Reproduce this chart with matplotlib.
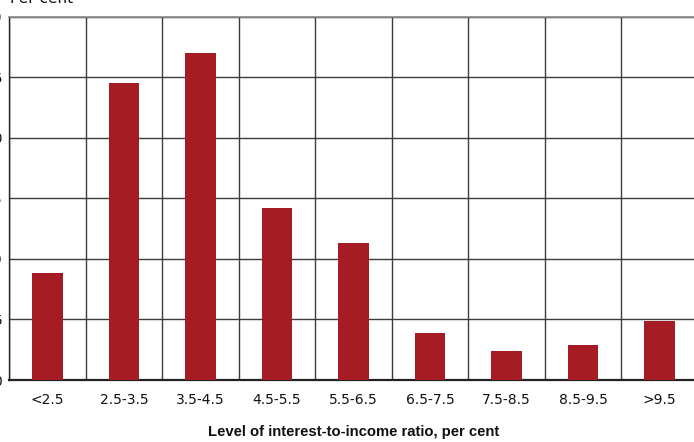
import matplotlib
matplotlib.use("Agg")
import matplotlib.pyplot as plt
import numpy as np

categories = ["<2.5", "2.5-3.5", "3.5-4.5", "4.5-5.5", "5.5-6.5",
              "6.5-7.5", "7.5-8.5", "8.5-9.5", ">9.5"]
values = [8.8, 24.5, 27.0, 14.2, 11.3, 3.9, 2.4, 2.9, 4.9]
yticks = [0, 5, 10, 15, 20, 25, 30]

W, H = 694, 442
fig = plt.figure(figsize=(W / 100, H / 100), dpi=100)
plt.rcParams['font.family'] = ['DejaVu Sans']

left, right, top, bottom = 9.3, 697.8, 16.7, 380.0
ax = fig.add_axes([left / W, (H - bottom) / H, (right - left) / W, (bottom - top) / H])

x = np.arange(len(categories))
ax.bar(x, values, width=0.4, color="#A51C24", zorder=3)

ax.set_xlim(-0.5, len(categories) - 0.5)
ax.set_ylim(0, 30)
ax.set_yticks(yticks)
ax.set_xticks(x)
ax.set_xticklabels(categories)
ax.set_xticks(np.arange(-0.5, len(categories), 1.0), minor=True)

ax.grid(True, which="major", axis="y", color="#3c3c3c", lw=1.0, zorder=1)
ax.grid(True, which="minor", axis="x", color="#3c3c3c", lw=1.0, zorder=1)
ax.grid(False, which="major", axis="x")

ax.tick_params(axis="both", which="both", length=0, labelsize=10, colors="#111111")
ax.tick_params(axis="y", pad=5)
ax.tick_params(axis="x", pad=9)

for s in ["top", "right"]:
    ax.spines[s].set_color("#888888")
    ax.spines[s].set_linewidth(1.2)
ax.spines["left"].set_color("#222222")
ax.spines["left"].set_linewidth(1.0)
ax.spines["bottom"].set_color("#222222")
ax.spines["bottom"].set_linewidth(1.6)

ax.set_xlabel("Level of interest-to-income ratio, per cent", fontsize=10.7,
              fontweight="bold", family=["Liberation Sans", "DejaVu Sans"],
              labelpad=13.5, color="#111111")

fig.text(10 / W, 1 - 3 / H, "Per cent", fontsize=11, va="baseline", ha="left",
         color="#111111")

fig.savefig("out.png", dpi=100)
